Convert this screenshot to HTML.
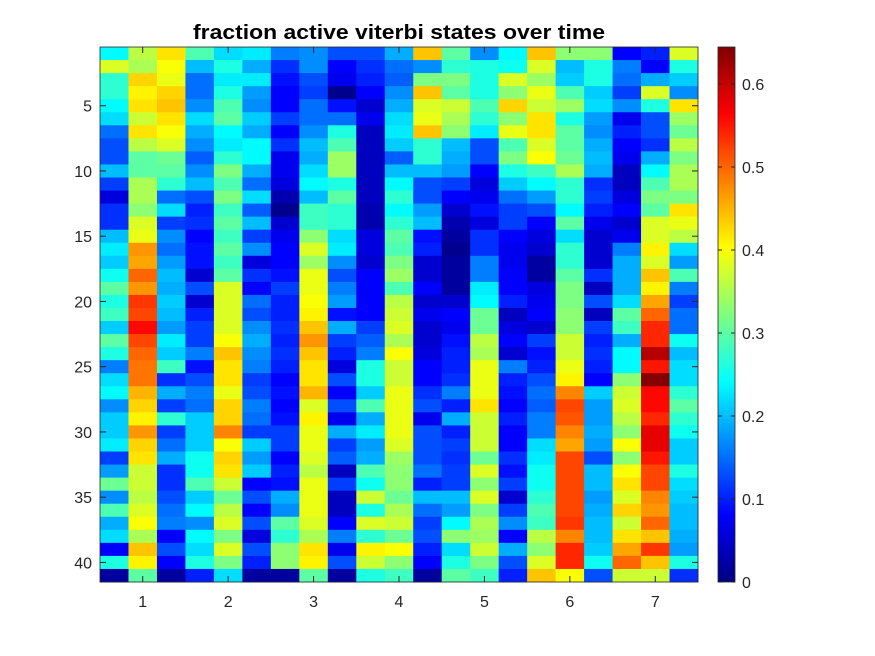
<!DOCTYPE html>
<html><head><meta charset="utf-8"><style>
body{margin:0;background:#fff;}
svg{display:block;font-family:"Liberation Sans",Arial,sans-serif;}
</style></head><body>
<svg id="chart" width="875" height="656">
<rect width="875" height="656" fill="#fff"/>
<text x="399" y="39" text-anchor="middle" font-size="20" font-weight="bold" fill="#000" textLength="412" lengthAdjust="spacingAndGlyphs">fraction active viterbi states over time</text>
<g id="cells"></g>
<g id="axes"></g>
<defs><linearGradient id="jet" x1="0" y1="1" x2="0" y2="0">
<stop offset="0" stop-color="#000080"/><stop offset="0.125" stop-color="#0000ff"/><stop offset="0.375" stop-color="#00ffff"/><stop offset="0.625" stop-color="#ffff00"/><stop offset="0.875" stop-color="#ff0000"/><stop offset="1" stop-color="#800000"/>
</linearGradient></defs>
<rect x="718" y="47" width="17" height="535" fill="url(#jet)" stroke="#262626" stroke-width="0.8"/>
<g id="cbaxis"></g>
</svg>
<script>
const xTicks=[1,2,3,4,5,6,7];
const yTicks=[5,10,15,20,25,30,35,40];
const cbTicks=[0,0.1,0.2,0.3,0.4,0.5,0.6];
const cMax=0.6446;
const values=[
[0.24,0.36,0.42,0.29,0.22,0.23,0.16,0.17,0.13,0.13,0.19,0.44,0.30,0.17,0.24,0.44,0.33,0.33,0.08,0.10,0.38],
[0.38,0.35,0.40,0.20,0.26,0.19,0.11,0.17,0.08,0.11,0.15,0.17,0.27,0.26,0.25,0.38,0.20,0.26,0.16,0.08,0.26],
[0.27,0.43,0.39,0.15,0.23,0.23,0.09,0.13,0.07,0.10,0.14,0.32,0.32,0.26,0.38,0.34,0.21,0.26,0.15,0.19,0.21],
[0.27,0.41,0.43,0.15,0.26,0.18,0.08,0.12,0.01,0.08,0.17,0.44,0.30,0.26,0.33,0.39,0.29,0.21,0.12,0.38,0.17],
[0.24,0.42,0.44,0.17,0.29,0.17,0.08,0.15,0.09,0.05,0.19,0.38,0.37,0.29,0.43,0.37,0.34,0.22,0.17,0.26,0.42],
[0.22,0.37,0.42,0.22,0.30,0.21,0.12,0.15,0.15,0.07,0.22,0.39,0.35,0.27,0.33,0.42,0.26,0.18,0.07,0.13,0.34],
[0.15,0.42,0.40,0.19,0.24,0.19,0.08,0.17,0.26,0.04,0.23,0.44,0.33,0.23,0.39,0.42,0.30,0.17,0.10,0.13,0.31],
[0.13,0.36,0.38,0.17,0.23,0.24,0.11,0.20,0.29,0.04,0.21,0.27,0.20,0.13,0.29,0.38,0.30,0.19,0.08,0.11,0.36],
[0.13,0.30,0.31,0.14,0.27,0.24,0.07,0.19,0.34,0.04,0.14,0.27,0.19,0.13,0.32,0.40,0.31,0.20,0.07,0.19,0.32],
[0.20,0.30,0.30,0.17,0.32,0.19,0.07,0.22,0.34,0.04,0.20,0.20,0.18,0.08,0.26,0.28,0.35,0.19,0.04,0.24,0.35],
[0.12,0.35,0.27,0.20,0.29,0.15,0.06,0.24,0.26,0.04,0.24,0.13,0.12,0.06,0.21,0.24,0.27,0.11,0.04,0.29,0.35],
[0.06,0.35,0.15,0.13,0.32,0.22,0.03,0.20,0.30,0.04,0.27,0.13,0.08,0.07,0.15,0.18,0.27,0.12,0.06,0.32,0.32],
[0.11,0.33,0.22,0.10,0.28,0.14,0.01,0.28,0.27,0.03,0.24,0.18,0.05,0.09,0.12,0.13,0.24,0.10,0.08,0.30,0.42],
[0.11,0.38,0.12,0.11,0.30,0.20,0.05,0.28,0.27,0.03,0.27,0.20,0.03,0.06,0.12,0.08,0.30,0.07,0.05,0.38,0.39],
[0.20,0.39,0.17,0.08,0.28,0.12,0.07,0.33,0.22,0.06,0.30,0.09,0.02,0.11,0.08,0.06,0.22,0.05,0.07,0.38,0.36],
[0.23,0.47,0.15,0.09,0.30,0.17,0.08,0.38,0.23,0.06,0.29,0.10,0.01,0.11,0.07,0.05,0.27,0.05,0.16,0.41,0.22],
[0.21,0.46,0.18,0.09,0.28,0.06,0.08,0.34,0.17,0.05,0.32,0.05,0.02,0.16,0.07,0.02,0.27,0.05,0.19,0.38,0.18],
[0.25,0.50,0.20,0.05,0.30,0.11,0.09,0.39,0.13,0.08,0.34,0.05,0.02,0.16,0.08,0.02,0.30,0.11,0.19,0.44,0.29],
[0.30,0.47,0.19,0.13,0.38,0.08,0.12,0.39,0.16,0.08,0.29,0.08,0.02,0.23,0.08,0.06,0.32,0.04,0.19,0.41,0.16],
[0.26,0.53,0.21,0.05,0.38,0.15,0.10,0.40,0.18,0.08,0.36,0.05,0.05,0.24,0.10,0.07,0.32,0.13,0.22,0.46,0.12],
[0.28,0.52,0.20,0.10,0.38,0.13,0.10,0.41,0.09,0.08,0.37,0.07,0.08,0.31,0.04,0.08,0.33,0.04,0.30,0.50,0.15],
[0.21,0.56,0.18,0.12,0.38,0.17,0.11,0.44,0.19,0.12,0.38,0.05,0.07,0.31,0.06,0.05,0.33,0.12,0.28,0.54,0.15],
[0.30,0.52,0.23,0.12,0.40,0.19,0.10,0.47,0.12,0.14,0.35,0.05,0.09,0.36,0.08,0.12,0.37,0.10,0.19,0.54,0.25],
[0.26,0.50,0.21,0.16,0.44,0.17,0.11,0.44,0.10,0.16,0.40,0.06,0.10,0.35,0.05,0.09,0.37,0.11,0.24,0.61,0.20],
[0.16,0.49,0.28,0.09,0.42,0.16,0.10,0.42,0.06,0.26,0.37,0.08,0.10,0.39,0.16,0.10,0.39,0.10,0.24,0.55,0.22],
[0.22,0.49,0.11,0.13,0.42,0.12,0.08,0.42,0.13,0.26,0.37,0.08,0.11,0.39,0.10,0.13,0.41,0.08,0.33,0.64,0.22],
[0.24,0.45,0.19,0.16,0.39,0.13,0.09,0.45,0.08,0.21,0.39,0.11,0.16,0.39,0.09,0.15,0.48,0.21,0.37,0.56,0.27],
[0.17,0.43,0.12,0.15,0.43,0.16,0.08,0.38,0.13,0.29,0.39,0.13,0.10,0.42,0.08,0.14,0.52,0.18,0.38,0.56,0.30],
[0.21,0.41,0.27,0.21,0.43,0.15,0.09,0.41,0.07,0.19,0.39,0.07,0.19,0.37,0.10,0.16,0.51,0.18,0.36,0.54,0.27],
[0.21,0.47,0.12,0.21,0.48,0.12,0.12,0.39,0.19,0.23,0.39,0.13,0.10,0.37,0.08,0.16,0.48,0.19,0.33,0.58,0.25],
[0.23,0.43,0.15,0.21,0.40,0.21,0.12,0.39,0.12,0.18,0.38,0.13,0.12,0.37,0.08,0.22,0.46,0.18,0.40,0.58,0.21],
[0.12,0.42,0.19,0.25,0.43,0.18,0.08,0.38,0.14,0.19,0.34,0.13,0.11,0.31,0.11,0.23,0.52,0.13,0.33,0.55,0.21],
[0.18,0.37,0.11,0.25,0.42,0.21,0.10,0.36,0.04,0.29,0.33,0.15,0.12,0.38,0.09,0.25,0.52,0.20,0.40,0.52,0.26],
[0.31,0.37,0.11,0.29,0.37,0.08,0.09,0.39,0.12,0.25,0.33,0.10,0.12,0.33,0.12,0.25,0.52,0.20,0.42,0.52,0.22],
[0.17,0.36,0.13,0.21,0.31,0.13,0.19,0.39,0.04,0.37,0.31,0.20,0.20,0.38,0.05,0.27,0.52,0.18,0.38,0.48,0.21],
[0.29,0.38,0.15,0.24,0.36,0.08,0.17,0.39,0.04,0.26,0.35,0.15,0.18,0.32,0.12,0.29,0.52,0.19,0.43,0.47,0.20],
[0.19,0.40,0.16,0.17,0.38,0.13,0.30,0.38,0.08,0.38,0.37,0.12,0.24,0.35,0.17,0.28,0.53,0.20,0.37,0.50,0.20],
[0.22,0.35,0.08,0.24,0.32,0.06,0.27,0.35,0.16,0.27,0.31,0.13,0.33,0.34,0.08,0.36,0.48,0.20,0.42,0.44,0.19],
[0.08,0.44,0.13,0.22,0.38,0.13,0.33,0.42,0.07,0.41,0.40,0.10,0.22,0.37,0.19,0.33,0.54,0.21,0.46,0.53,0.18],
[0.26,0.41,0.08,0.26,0.32,0.10,0.33,0.41,0.13,0.37,0.33,0.08,0.26,0.32,0.13,0.38,0.54,0.25,0.50,0.44,0.26],
[0.02,0.30,0.02,0.10,0.22,0.02,0.02,0.30,0.02,0.26,0.28,0.02,0.30,0.28,0.10,0.44,0.40,0.13,0.37,0.37,0.11]
];
const X0=100,X1=698,Y0=47,Y1=582,nRows=values.length,perUnit=3;
const xs=v=>X0+(v-0.5)*(X1-X0)/7;
const ys=r=>Y0+(r-0.5)*(Y1-Y0)/nRows;
const cs=v=>Y1-v/cMax*(Y1-Y0);
function jet(v){const t=Math.max(0,Math.min(1,v/cMax));
 const f=x=>Math.round(255*Math.max(0,Math.min(1,1.5-Math.abs(4*t-x))));
 return `rgb(${f(3)},${f(2)},${f(1)})`;}
const NS="http://www.w3.org/2000/svg";
function mk(tag,attrs,parent){const e=document.createElementNS(NS,tag);for(const k in attrs)e.setAttribute(k,attrs[k]);parent.appendChild(e);return e;}
const cells=document.getElementById('cells');
values.forEach((row,i)=>{row.forEach((v,j)=>{
 const xa=xs(0.5+j/perUnit),xb=xs(0.5+(j+1)/perUnit);
 const r=mk('rect',{x:xa,y:ys(i+0.5),width:xb-xa+0.4,height:ys(i+1.5)-ys(i+0.5)+0.4,fill:jet(v)},cells);
 
 
});});
const ax=document.getElementById('axes');
const box=mk('rect',{x:X0,y:Y0,width:X1-X0,height:Y1-Y0,fill:'none',stroke:'#262626','stroke-width':0.8},ax);


xTicks.forEach(t=>{const x=xs(t);
 mk('line',{x1:x,x2:x,y1:Y1,y2:Y1-6,stroke:'#262626'},ax);
 mk('line',{x1:x,x2:x,y1:Y0,y2:Y0+6,stroke:'#262626'},ax);
 const l=mk('text',{x:x,y:Y1+25,'text-anchor':'middle','font-size':16,fill:'#262626'},ax);l.textContent=t;
 
 
});
yTicks.forEach(t=>{const y=ys(t);
 mk('line',{x1:X0,x2:X0+6,y1:y,y2:y,stroke:'#262626'},ax);
 mk('line',{x1:X1,x2:X1-6,y1:y,y2:y,stroke:'#262626'},ax);
 const l=mk('text',{x:X0-8,y:y+6,'text-anchor':'end','font-size':16,fill:'#262626'},ax);l.textContent=t;
 
 
});
const cb=document.getElementById('cbaxis');
cbTicks.forEach(t=>{const y=cs(t);
 mk('line',{x1:735,x2:731,y1:y,y2:y,stroke:'#262626'},cb);
 mk('line',{x1:718,x2:722,y1:y,y2:y,stroke:'#262626'},cb);
 const l=mk('text',{x:742,y:y+6,'font-size':16,fill:'#262626'},cb);l.textContent=t;
 
 
});
</script>
</body></html>
